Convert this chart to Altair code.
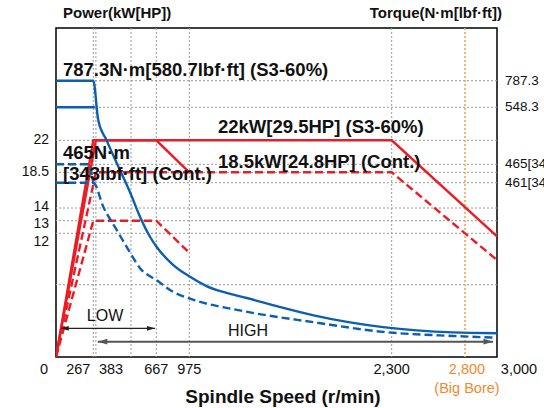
import altair as alt
import pandas as pd

# ---------------- data ----------------
speed_ticks = [0, 267, 383, 667, 975, 2300, 2800, 3000]
speed_tick_labels = ["0", "267", "383", "667", "975", "2,300", "2,800", "3,000"]
speed_grid = [267, 275, 383, 667, 975, 2300]
big_bore_speed = [2800]

power_ticks = [18.5, 22]
power_tick_labels = ["18.5", "22"]
power_grid = [7, 12, 13, 14, 18.5, 22]

torque_ticks = [461, 465, 548.3, 787.3]
torque_tick_labels = ["461[340]", "465[343]", "548.3", "787.3"]

# power curves (kW)
high_s3_speed = [0, 275, 2300, 3000]
high_s3_kw = [0, 22, 22, 11.7]
high_cont_speed = [0, 275, 2300, 3000]
high_cont_kw = [0, 18.5, 18.5, 9.4]
low_s3_speed = [0, 267, 667, 975]
low_s3_kw = [0, 22, 22, 18.5]
low_cont_speed = [0, 267, 667, 975]
low_cont_kw = [0, 13, 13, 10.1]

# torque curves (N·m)
s3_torque_speed = [0, 267, 282, 308, 339, 381, 484, 596, 671, 826, 980, 1091, 1196,
                   1351, 1569, 1789, 2243, 2718, 3000]
s3_torque_nm = [787.3, 787.3, 530, 500, 467, 434, 371, 318, 291, 243, 212, 187, 172,
                156, 132, 110, 79, 65, 63]
s3_high_torque_speed = [0, 272]
s3_high_torque_nm = [548.3, 548.3]
cont_torque_speed = [0, 267, 298, 339, 381, 484, 671, 826, 990, 1333, 1789, 2243, 2718, 3000]
cont_torque_nm = [461, 461, 397, 336, 275, 235, 203, 172, 153, 121, 92, 66.5, 55.6, 51]
cont_low_torque_speed = [0, 231, 267]
cont_low_torque_nm = [465, 465, 461]

low_range = [34, 652]
high_range = [281, 2975]

# ---------------- styling ----------------
RED = "#ec1c24"
BLUE = "#0c5fb0"
ORANGE = "#f28a2e"
FONT = "Liberation Sans"

xs = alt.Scale(domain=[0, 267, 383, 667, 975, 2300, 2800, 3000],
               range=[0, 37.3, 75, 100.3, 133.3, 335.7, 409, 441], nice=False, zero=False)
yp = alt.Scale(domain=[0, 7, 12, 13, 14, 18.5, 22, 33],
               range=[329, 256.7, 205.3, 192.7, 180, 144.3, 112.3, 0], nice=False, zero=False)
yt = alt.Scale(domain=[0, 461, 465, 548.3, 787.3, 1000],
               range=[329, 154.7, 136.3, 79.3, 52.7, 0], nice=False, zero=False)


def frame(parts):
    rows = []
    for name, xsv, ysv in parts:
        for i, (a, b) in enumerate(zip(xsv, ysv)):
            rows.append({"speed": a, "value": b, "series": name, "i": i})
    return pd.DataFrame(rows)


X = alt.X("speed:Q", scale=xs, axis=None)

# gridlines
grid_x = alt.Chart(pd.DataFrame({"speed": speed_grid})).mark_rule(
    color="#9a9a9a", strokeDash=[2, 2], strokeWidth=1).encode(x=X)
grid_p = alt.Chart(pd.DataFrame({"value": power_grid})).mark_rule(
    color="#9a9a9a", strokeDash=[2, 2], strokeWidth=1).encode(
    y=alt.Y("value:Q", scale=yp, axis=None))
grid_t = alt.Chart(pd.DataFrame({"value": torque_ticks})).mark_rule(
    color="#9a9a9a", strokeDash=[2, 2], strokeWidth=1).encode(
    y=alt.Y("value:Q", scale=yt, axis=None))
orange_line = alt.Chart(pd.DataFrame({"speed": big_bore_speed})).mark_rule(
    color="#f6a35c", strokeDash=[2, 2], strokeWidth=1.6).encode(x=X)


def lines(df, color, dash, scale, interp="linear"):
    kw = dict(color=color, strokeWidth=2.4, clip=True, interpolate=interp)
    if dash:
        kw["strokeDash"] = dash
    return alt.Chart(df).mark_line(**kw).encode(
        x=X, y=alt.Y("value:Q", scale=scale, axis=None),
        detail="series:N", order="i:Q")


red_solid = lines(frame([("hs3", high_s3_speed, high_s3_kw),
                         ("ls3", low_s3_speed, low_s3_kw)]), RED, None, yp)
red_dash = lines(frame([("hc", high_cont_speed, high_cont_kw),
                        ("lc", low_cont_speed, low_cont_kw)]), RED, [8, 4], yp)
blue_solid = lines(frame([("ts3", s3_torque_speed, s3_torque_nm),
                          ("ts3h", s3_high_torque_speed, s3_high_torque_nm)]), BLUE, None, yt,
                   "monotone")
blue_dash = lines(frame([("tc", cont_torque_speed, cont_torque_nm),
                         ("tcl", cont_low_torque_speed, cont_low_torque_nm)]), BLUE, [8, 4], yt,
                  "monotone")


def txt(s, x, y, size=14, bold=False, align="left", color="#111", baseline="middle"):
    return alt.Chart(pd.DataFrame({"t": [s]})).mark_text(
        font=FONT, fontSize=size, fontWeight="bold" if bold else "normal",
        align=align, baseline=baseline, color=color).encode(
        x=alt.value(x), y=alt.value(y), text="t:N")


annotations = [
    txt("787.3N·m[580.7lbf·ft] (S3-60%)", 7, 42, 18.5, True),
    txt("22kW[29.5HP] (S3-60%)", 162, 99, 18.5, True),
    txt("18.5kW[24.8HP] (Cont.)", 162, 133.5, 18.5, True),
    txt("465N·m", 7, 124.5, 18.5, True),
    txt("[343lbf·ft] (Cont.)", 7, 146, 18.5, True),
    txt("LOW", 49, 288, 16, False, "center"),
    txt("HIGH", 192, 303, 16, False, "center"),
    txt("Power(kW[HP])", 7, -15, 15, True),
    txt("Torque(N·m[lbf·ft])", 446, -15, 15, True, "right"),
    txt("(Big Bore)", 411, 361, 14.5, False, "center", ORANGE),
    txt("Spindle Speed (r/min)", 227, 369, 19, True, "center"),
]


# arrows
def arrow(rng, y, color, width, size):
    d = pd.DataFrame({"speed": [rng[0]], "speed2": [rng[1]]})
    rule = alt.Chart(d).mark_rule(color=color, strokeWidth=width).encode(
        x=X, x2="speed2:Q", y=alt.value(y))
    left = alt.Chart(pd.DataFrame({"speed": [rng[0]]})).mark_point(
        shape="M0,0 L2,-0.6 L2,0.6 Z", filled=True, opacity=1, size=size, color=color).encode(
        x=X, y=alt.value(y))
    right = alt.Chart(pd.DataFrame({"speed": [rng[1]]})).mark_point(
        shape="M0,0 L-2,-0.6 L-2,0.6 Z", filled=True, opacity=1, size=size, color=color).encode(
        x=X, y=alt.value(y))
    return [rule, left, right]


arrows = arrow(low_range, 300.3, "#222", 1.2, 64) + arrow(high_range, 313.7, "#555", 2, 90)

# tick labels
shift = {"0": -12, "267": -15, "383": -20, "3,000": 22, "2,800": 2}
xlabel_layers = []
for lab, v in zip(speed_tick_labels, speed_ticks):
    col = ORANGE if lab == "2,800" else "#111"
    xlabel_layers.append(
        alt.Chart(pd.DataFrame({"speed": [v], "t": [lab]})).mark_text(
            font=FONT, fontSize=14.5, color=col, baseline="middle", align="center",
            dx=shift.get(lab, 0)).encode(x=X, y=alt.value(342), text="t:N"))

plabels = alt.Chart(pd.DataFrame({"value": power_ticks, "t": power_tick_labels})).mark_text(
    font=FONT, fontSize=14, color="#111", align="right", baseline="middle").encode(
    x=alt.value(-7), y=alt.Y("value:Q", scale=yp, axis=None), text="t:N")
plabel_layers = []
for lab, v, off in [("14", 14, -1), ("13", 13, 3), ("12", 12, 9)]:
    plabel_layers.append(
        alt.Chart(pd.DataFrame({"value": [v], "t": [lab]})).mark_text(
            font=FONT, fontSize=14, color="#111", align="right", baseline="middle",
            dy=off).encode(x=alt.value(-7), y=alt.Y("value:Q", scale=yp, axis=None),
                           text="t:N"))
tlabels = alt.Chart(pd.DataFrame({"value": torque_ticks, "t": torque_tick_labels})).mark_text(
    font=FONT, fontSize=13.5, color="#111", align="left", baseline="middle").encode(
    x=alt.value(449), y=alt.Y("value:Q", scale=yt, axis=None), text="t:N")

chart = alt.layer(
    grid_x, grid_p, grid_t, orange_line,
    red_solid, red_dash, blue_solid, blue_dash,
    *annotations, *arrows, *xlabel_layers, plabels, *plabel_layers, tlabels,
).resolve_scale(y="independent").properties(
    width=441, height=329,
    padding={"left": 56, "top": 28, "right": 47, "bottom": 51},
    autosize=alt.AutoSizeParams(type="none"),
    background="white",
).configure_view(stroke="#000", strokeWidth=1.5)

chart.save("out.html", embed_options={"renderer": "svg", "actions": False})
